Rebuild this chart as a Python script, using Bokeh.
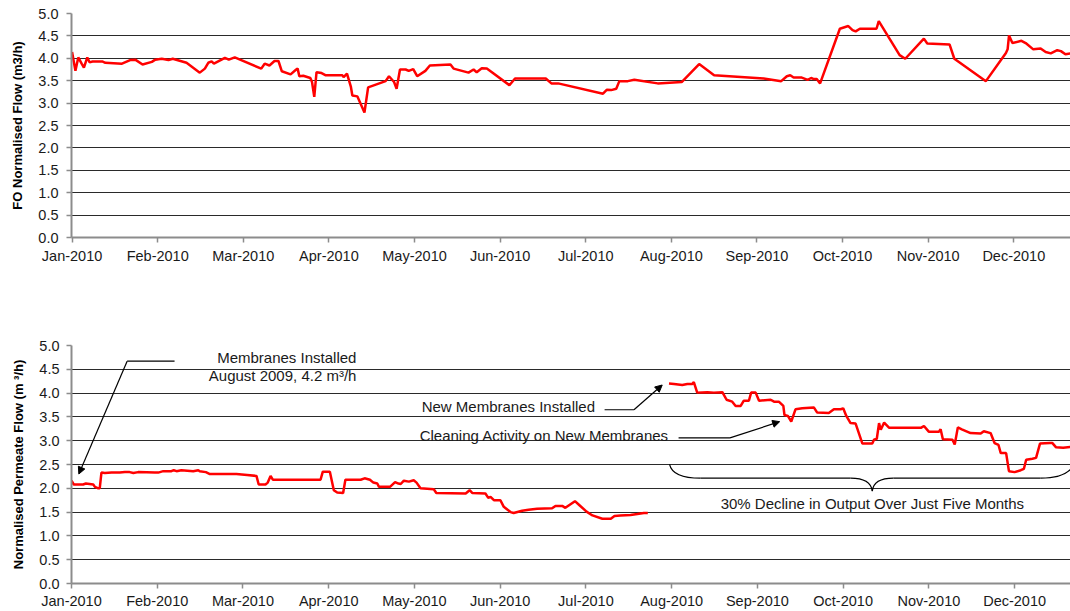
from bokeh.plotting import figure
from bokeh.models import FixedTicker, Range1d, Label, Arrow, NormalHead
from bokeh.models import PrintfTickFormatter
from bokeh.layouts import column
from bokeh.embed import file_html
from bokeh.resources import INLINE

FONT = "Liberation Sans"

# ---------------- data (x = days since 1 Jan 2010) ----------------
month_labels = ["Jan-2010", "Feb-2010", "Mar-2010", "Apr-2010", "May-2010", "Jun-2010",
                "Jul-2010", "Aug-2010", "Sep-2010", "Oct-2010", "Nov-2010", "Dec-2010"]
y_ticks = [0.0, 0.5, 1.0, 1.5, 2.0, 2.5, 3.0, 3.5, 4.0, 4.5, 5.0]

fo_day = [0, 1.2, 2.2, 3.4, 4.2, 5.4, 6.2, 7.3, 10.7, 11.8, 17.7, 20.6, 22.4, 25.0, 28.3,
          29.5, 31.8, 34.2, 35.7, 40.6, 45.3, 47.1, 48.3, 49.5, 50.3, 54.2, 55.6, 57.7, 67.1,
          68.3, 70.0, 71.8, 73.2, 74.4, 77.5, 79.5, 80.0, 80.6, 82.0, 84.5, 85.1, 85.9, 86.7,
          88.5, 90.0, 95.9, 96.3, 97.5, 98.9, 99.4, 101.2, 103.7, 105.0, 111.2, 112.4, 114.2,
          115.1, 116.3, 118.3, 119.4, 121.0, 122.4, 125.3, 126.9, 134.2, 135.3, 140.6, 142.4,
          143.5, 145.3, 147.1, 155.1, 157.1, 168.0, 170.0, 172.4, 188.3, 189.7, 191.2, 193.0,
          194.1, 197.1, 199.4, 207.7, 216.2, 222.4, 227.7, 245.3, 251.5, 253.5, 254.7, 255.9,
          258.8, 260.9, 262.1, 262.9, 264.1, 265.3, 272.3, 275.3, 276.8, 277.9, 279.4, 285.3,
          286.1, 293.5, 295.5, 302.1, 303.3, 311.2, 312.9, 324.1, 331.2, 331.8, 332.3, 333.5,
          336.7, 338.2, 340.9, 343.5, 345.3, 347.1, 349.4, 350.7, 352.3, 354.1]
fo_val = [4.14, 3.72, 4.02, 3.88, 3.79, 4.02, 3.91, 3.93, 3.93, 3.90, 3.88, 3.96, 3.97, 3.86, 3.92,
          3.97, 3.99, 3.96, 3.99, 3.90, 3.68, 3.77, 3.90, 3.93, 3.88, 4.01, 3.97, 4.02, 3.77,
          3.88, 3.84, 3.94, 3.94, 3.71, 3.64, 3.75, 3.77, 3.60, 3.61, 3.56, 3.47, 3.14, 3.69,
          3.67, 3.62, 3.62, 3.58, 3.66, 3.36, 3.17, 3.15, 2.79, 3.35, 3.49, 3.60, 3.47,
          3.32, 3.75, 3.75, 3.72, 3.76, 3.60, 3.72, 3.84, 3.86, 3.77, 3.68, 3.75,
          3.69, 3.78, 3.77, 3.40, 3.55, 3.55, 3.44, 3.44, 3.21, 3.30, 3.29, 3.32,
          3.49, 3.49, 3.52, 3.44, 3.47, 3.87, 3.62, 3.55, 3.49, 3.60, 3.62, 3.57,
          3.57, 3.52, 3.56, 3.54, 3.54, 3.44, 4.66, 4.72, 4.63, 4.60, 4.66, 4.66,
          4.83, 4.07, 3.99, 4.44, 4.33, 4.31, 3.99, 3.49, 4.12, 4.20, 4.51, 4.34,
          4.39, 4.34, 4.20, 4.22, 4.14, 4.11, 4.18, 4.16, 4.09, 4.11]

perm_old_day = [0.0, 0.8, 4.1, 5.1, 7.7, 8.3, 9.5, 10.0, 10.6, 11.8, 14.2, 17.1, 18.9, 20.6, 21.9,
                23.6, 29.5, 30.7, 32.5, 35.4, 36.2, 37.2, 38.9, 43.1, 44.9, 45.4, 47.6, 49.0, 58.4,
                62.2, 65.5, 66.3, 68.7, 69.5, 70.5, 71.3, 88.2, 89.0, 91.5, 92.9, 94.1, 96.2, 97.0,
                102.4, 103.8, 105.7, 106.9, 108.3, 108.9, 112.8, 114.6, 115.8, 116.6, 117.7, 119.5,
                121.2, 122.2, 123.6, 128.3, 129.2, 139.6, 141.0, 142.0, 146.6, 147.6, 148.4, 149.6,
                151.9, 153.1, 155.5, 156.6, 159.6, 161.9, 164.9, 170.2, 171.4, 173.8, 174.9, 178.3,
                179.8, 182.4, 184.5, 188.0, 191.0, 192.3, 194.4, 198.0, 200.4, 202.7, 204.1]
perm_old_val = [2.16, 2.08, 2.08, 2.10, 2.08, 2.03, 2.00, 2.00, 2.33, 2.32, 2.33, 2.33, 2.34, 2.34, 2.32,
                2.34, 2.33, 2.33, 2.36, 2.36, 2.38, 2.36, 2.38, 2.36, 2.38, 2.36, 2.34, 2.30, 2.30,
                2.28, 2.26, 2.08, 2.08, 2.12, 2.26, 2.18, 2.18, 2.35, 2.35, 1.96, 1.91, 1.90, 2.18,
                2.18, 2.21, 2.18, 2.12, 2.10, 2.03, 2.03, 2.13, 2.10, 2.09, 2.16, 2.14,
                2.17, 2.12, 2.00, 1.98, 1.90, 1.89, 1.96, 1.90, 1.89, 1.80, 1.82, 1.75,
                1.75, 1.61, 1.50, 1.48, 1.53, 1.55, 1.57, 1.58, 1.63, 1.63, 1.59, 1.73,
                1.65, 1.51, 1.43, 1.36, 1.36, 1.42, 1.43, 1.44, 1.46, 1.48, 1.48]

perm_new_day = [211.6, 213.4, 216.3, 218.1, 219.8, 220.4, 221.6, 225.2, 227.5, 230.5, 232.0, 234.0,
                235.2, 237.0, 238.1, 239.9, 240.7, 242.3, 243.5, 247.6, 248.8, 250.5, 252.1, 252.5,
                253.7, 254.9, 256.4, 258.8, 262.9, 264.1, 268.2, 270.0, 272.4, 273.3, 274.4, 275.9,
                277.7, 280.1, 283.6, 284.2, 285.2, 286.0, 286.6, 287.8, 289.6, 300.8, 301.9, 303.6,
                307.2, 307.8, 308.6, 312.0, 312.8, 313.9, 315.3, 318.4, 322.0, 323.1, 325.5, 326.9,
                328.3, 329.1, 331.0, 332.0, 334.0, 336.2, 337.3, 338.1, 340.3, 341.6, 343.0, 346.5,
                347.4, 348.7, 351.2, 353.8]
perm_new_val = [4.20, 4.19, 4.17, 4.19, 4.19, 4.23, 4.01, 4.02, 4.01, 4.02, 3.86, 3.82,
                3.73, 3.73, 3.84, 3.84, 4.01, 4.01, 3.84, 3.86, 3.82, 3.82, 3.73, 3.54,
                3.52, 3.40, 3.66, 3.68, 3.70, 3.59, 3.58, 3.66, 3.66, 3.68, 3.52, 3.37,
                3.36, 2.94, 2.94, 3.02, 3.04, 3.37, 3.23, 3.38, 3.27, 3.27, 3.31, 3.19,
                3.19, 3.24, 3.03, 3.02, 2.92, 3.28, 3.24, 3.16, 3.15, 3.20, 3.16, 2.95,
                2.91, 2.74, 2.74, 2.36, 2.34, 2.38, 2.41, 2.60, 2.62, 2.64, 2.94, 2.95,
                2.95, 2.86, 2.85, 2.87]

# ---------------- helpers ----------------
MONTH_STEP = 334 / 11.0
x_tick_pos = [round(i * MONTH_STEP, 3) for i in range(len(month_labels))]


def style(p, title, left_standoff, bottom_standoff, tick_out_x):
    p.outline_line_color = None
    p.xgrid.visible = False
    p.ygrid.ticker = FixedTicker(ticks=y_ticks[1:])
    p.ygrid.grid_line_color = "#2a2a2a"
    p.ygrid.grid_line_width = 1
    p.xaxis.ticker = FixedTicker(ticks=x_tick_pos)
    p.xaxis.major_label_overrides = {t: l for t, l in zip(x_tick_pos, month_labels)}
    p.yaxis.ticker = FixedTicker(ticks=y_ticks)
    p.yaxis.formatter = PrintfTickFormatter(format="%.1f")
    for ax in (p.xaxis, p.yaxis):
        ax.axis_line_color = "#8c8c8c"
        ax.axis_line_width = 2
        ax.major_tick_line_color = "#8c8c8c"
        ax.major_tick_line_width = 1.5
        ax.minor_tick_line_color = None
        ax.major_tick_in = 0
        ax.major_label_text_font = FONT
        ax.major_label_text_font_size = "14.5px"
        ax.major_label_text_color = "#1a1a1a"
    p.xaxis.major_tick_out = tick_out_x
    p.yaxis.major_tick_out = 5
    p.yaxis.major_label_standoff = left_standoff
    p.xaxis.major_label_standoff = bottom_standoff
    p.yaxis.axis_label = title
    p.yaxis.axis_label_text_font = FONT
    p.yaxis.axis_label_text_font_size = "13px"
    p.yaxis.axis_label_text_font_style = "bold"
    p.yaxis.axis_label_text_color = "#000000"
    p.yaxis.axis_label_standoff = 10


# ---------------- top chart ----------------
p1 = figure(width=1070, height=280, output_backend="svg", toolbar_location=None,
            x_range=Range1d(-0.2, 354.1), y_range=Range1d(0, 5),
            min_border_left=66, min_border_right=0, min_border_top=13, min_border_bottom=43)
style(p1, "FO Normalised Flow (m3/h)", 8, 5, 5)
p1.line(fo_day, fo_val, line_color="#ff0000", line_width=2.5)

# ---------------- bottom chart ----------------
p2 = figure(width=1070, height=331, output_backend="svg", toolbar_location=None,
            x_range=Range1d(0, 353.8), y_range=Range1d(0, 5),
            min_border_left=71, min_border_right=0, min_border_top=65, min_border_bottom=26)
style(p2, "Normalised Permeate Flow (m \u00b3/h)", 7, 4, 5)
p2.line(perm_old_day, perm_old_val, line_color="#ff0000", line_width=2.5)
p2.line(perm_new_day, perm_new_val, line_color="#ff0000", line_width=2.5)

lbl = dict(text_font=FONT, text_font_size="15px", text_color="#1a1a1a", text_baseline="middle")
p2.add_layout(Label(x=100.9, y=4.75, text="Membranes Installed", text_align="right", **lbl))
p2.add_layout(Label(x=100.9, y=4.36, text="August 2009, 4.2 m\u00b3/h", text_align="right", **lbl))
p2.add_layout(Label(x=124.0, y=3.72, text="New Membranes Installed", text_align="left", **lbl))
p2.add_layout(Label(x=123.3, y=3.11, text="Cleaning Activity on New Membranes", text_align="left", **lbl))
p2.add_layout(Label(x=229.9, y=1.69, text="30% Decline in Output Over Just Five Months",
                    text_align="left", **lbl))

# leader lines
p2.segment(x0=[36.5, 188.8, 215.0], y0=[4.67, 3.65, 3.06],
           x1=[19.7, 199.2, 233.2], y1=[4.67, 3.65, 3.06], line_color="black", line_width=1.2)
for xs, ys, xe, ye in [(19.7, 4.67, 2.6, 2.30), (199.2, 3.65, 209.2, 4.17), (233.2, 3.06, 250.8, 3.40)]:
    p2.add_layout(Arrow(end=NormalHead(size=7, fill_color="black", line_color="black", line_width=1),
                        x_start=xs, y_start=ys, x_end=xe, y_end=ye,
                        line_color="black", line_width=1.2))

# curly brace
p2.quadratic(x0=[211.8, 275.9, 283.6, 343.2], y0=[2.503, 2.212, 1.941, 2.212],
             x1=[222.8, 283.6, 291.1, 355.5], y1=[2.212, 1.941, 2.212, 2.566],
             cx=[212.9, 283.0, 284.1, 353.6], cy=[2.212, 2.212, 2.212, 2.212],
             line_color="black", line_width=1.2)
p2.segment(x0=[222.8, 291.1], y0=[2.212, 2.212], x1=[275.9, 343.2], y1=[2.212, 2.212],
           line_color="black", line_width=1.2)

layout = column(p1, p2, spacing=0)
open("out.html", "w").write(file_html(layout, INLINE))
